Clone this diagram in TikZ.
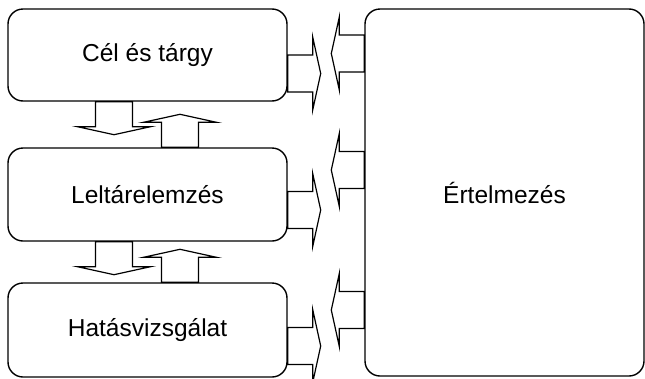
\documentclass[tikz,border=0pt]{standalone}
\usepackage{fontspec}
\setmainfont{Liberation Sans}
\usetikzlibrary{calc,backgrounds}
\begin{document}
\begin{tikzpicture}[x=1pt,y=-1pt,
  box/.style={draw=black, line width=1.4pt, rounded corners=15pt,
    inner sep=0pt, font=\fontsize{24.5}{29}\selectfont},
  arrowline/.style={draw=black, line width=1.2pt, fill=white, line join=miter},
  barrow/.pic={\path[arrowline] (0,-18.5)--(25,-18.5)--(25,-36.5)--(33,0)--(25,36.5)--(25,18.5)--(0,18.5)--cycle;}
]
\useasboundingbox (0,0) rectangle (645,378);
\node[box, minimum width=279pt, minimum height=92pt] (b1) at (147.5,55) {Cél és tárgy};
\node[box, minimum width=279pt, minimum height=93pt] (b2) at (147.5,194.5) {Leltárelemzés};
\node[box, minimum width=279pt, minimum height=94pt] (b3) at (147.5,330) {Hatásvizsgálat};
\node[box, minimum width=279pt, minimum height=367pt] (e) at (504.5,192.5) {Értelmezés};

\begin{scope}[on background layer]
% right arrows: boxes -> Értelmezés
\pic at ($(b1.east)+(0,18.5)$) {barrow};
\pic at ($(b2.east)+(0,15.5)$) {barrow};
\pic at ($(b3.east)+(0,16)$) {barrow};
% left arrows: Értelmezés -> boxes
\pic[rotate=180] at ($(e.west |- b1.east)+(0,-1.5)$) {barrow};
\pic[rotate=180] at ($(e.west |- b2.east)+(0,-24.5)$) {barrow};
\pic[rotate=180] at ($(e.west |- b3.east)+(0,-20)$) {barrow};
% vertical arrows
\pic[rotate=-90] at ($(b1.south)+(-33.5,0)$) {barrow};
\pic[rotate=90] at ($(b2.north)+(32.5,0)$) {barrow};
\pic[rotate=-90] at ($(b2.south)+(-33.5,0)$) {barrow};
\pic[rotate=90] at ($(b3.north)+(32.5,0)$) {barrow};
\end{scope}
\end{tikzpicture}
\end{document}
